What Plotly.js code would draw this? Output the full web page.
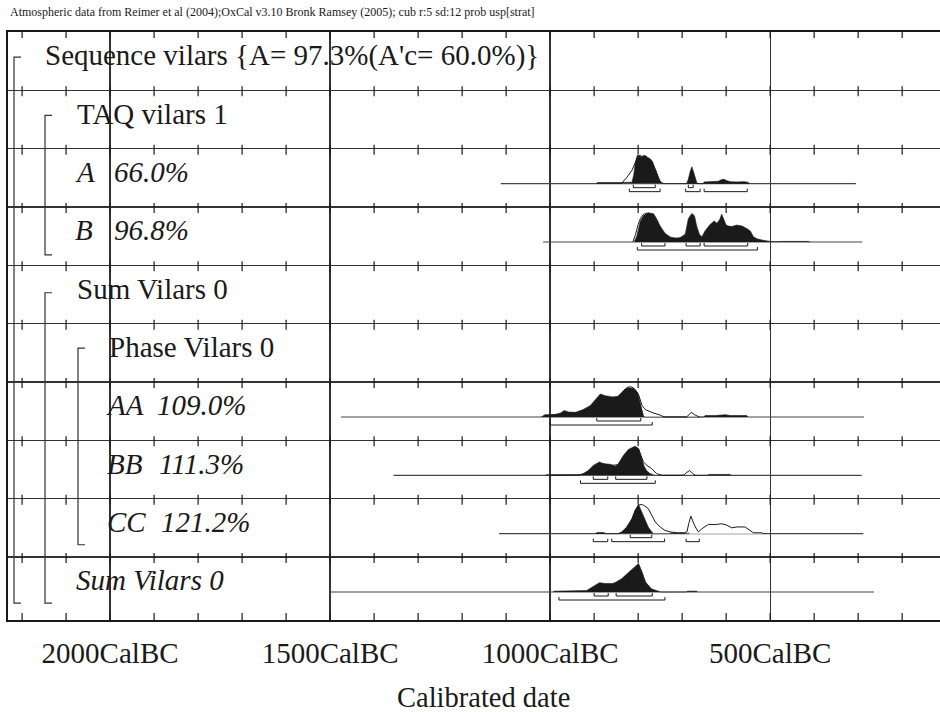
<!DOCTYPE html>
<html><head><meta charset="utf-8">
<script src="https://cdn.plot.ly/plotly-3.0.1.min.js"></script>
<style>html,body{margin:0;padding:0;background:#fff}#chart{width:940px;height:712px}</style>
</head><body><div id="chart"></div>
<script>
// ================= DATA (years cal BC, relative probability 0..1) =================
const headerText = "Atmospheric data from Reimer et al (2004);OxCal v3.10 Bronk Ramsey (2005); cub r:5 sd:12 prob usp[strat]";
const axisTitle = "Calibrated date";
const rowNames = ["Sequence vilars {A= 97.3%(A'c= 60.0%)}", "TAQ vilars 1", "A", "B", "Sum Vilars 0",
                  "Phase Vilars 0", "AA", "BB", "CC", "Sum Vilars 0"];
const rowAgreement = ["", "", "66.0%", "96.8%", "", "", "109.0%", "111.3%", "121.2%", ""];
const rowItalic = [false, false, true, true, false, false, true, true, true, true];
const majorTickBC = [2000, 1500, 1000, 500];
const majorTickText = ["2000CalBC", "1500CalBC", "1000CalBC", "500CalBC"];
const minorTickBC = [2200, 2100, 2000, 1900, 1800, 1700, 1600, 1500, 1400, 1300, 1200, 1100,
                     1000, 900, 800, 700, 600, 500, 400, 300, 200];

// --- A ---
const A_span = [1112, 305];
const A_postBC = [894, 893, 840, 830, 814, 810, 806, 802, 797, 792, 788, 783, 778, 772, 767, 762, 757, 752, 747, 742,
                  690, 686, 682, 678, 675, 671, 667, 664, 652, 650, 630, 618, 610, 605, 598, 590, 575, 560, 550, 548];
const A_postP  = [0, 0.04, 0.04, 0.04, 0.05, 0.3, 0.75, 0.97, 0.95, 0.92, 0.97, 0.96, 0.9, 0.85, 0.75, 0.55, 0.3, 0.12, 0.05, 0,
                  0, 0.15, 0.4, 0.58, 0.45, 0.2, 0.05, 0, 0, 0.06, 0.06, 0.08, 0.14, 0.15, 0.1, 0.07, 0.06, 0.07, 0.05, 0];
const A_priorBC = [838, 826, 814, 805, 800, 795, 790, 780, 770, 760, 750, 744];
const A_priorP  = [0, 0.21, 0.46, 0.75, 0.94, 0.98, 0.9, 0.85, 0.75, 0.45, 0.07, 0];
const A_r68 = [[811, 761], [686, 675]];
const A_r95 = [[820, 750], [692, 659], [650, 552]];

// --- B ---
const B_span = [1016, 291];
const B_postBC = [809, 803, 795, 788, 777, 765, 758, 750, 739, 727, 716, 705, 693, 686, 678, 672, 667, 661, 655, 648,
                  636, 627, 621, 615, 610, 606, 600, 595, 587, 576, 564, 553, 545, 538, 530, 519, 507, 500, 490, 473, 413, 410];
const B_postP  = [0, 0.2, 0.72, 0.9, 1.0, 0.97, 0.8, 0.55, 0.3, 0.17, 0.14, 0.15, 0.27, 0.8, 0.98, 0.9, 0.55, 0.27, 0.18, 0.38,
                  0.61, 0.72, 0.64, 0.76, 0.95, 0.78, 0.58, 0.55, 0.53, 0.58, 0.55, 0.46, 0.38, 0.18, 0.11, 0.07, 0.03, 0.02, 0.01, 0.02, 0.02, 0];
const B_priorBC = [812, 806, 800, 795, 789, 783, 777, 770];
const B_priorP  = [0, 0.25, 0.6, 0.8, 0.93, 0.98, 0.99, 0.92];
const B_r68 = [[792, 739], [691, 659], [650, 551]];
const B_r95 = [[802, 529]];

// --- AA ---
const AA_span = [1475, 287];
const AA_postBC = [1020, 1012, 990, 976, 968, 958, 942, 926, 909, 896, 886, 875, 858, 846, 837, 829, 821, 810, 801, 796, 792,
                   788, 785, 650, 648, 625, 602, 590, 553, 551];
const AA_postP  = [0, 0.08, 0.08, 0.14, 0.22, 0.17, 0.16, 0.25, 0.39, 0.6, 0.79, 0.73, 0.69, 0.71, 0.83, 0.97, 1.0, 0.98, 0.83, 0.5, 0.2,
                   0.05, 0, 0, 0.05, 0.05, 0.08, 0.05, 0.05, 0];
const AA_priorBC = [1010, 976, 950, 925, 909, 896, 886, 875, 858, 846, 837, 829, 823, 815, 807, 799, 791, 783, 766, 749, 741,
                    690, 686, 679, 672, 661];
const AA_priorP  = [0.05, 0.1, 0.12, 0.2, 0.35, 0.55, 0.7, 0.65, 0.62, 0.65, 0.78, 0.96, 1.03, 1.03, 0.95, 0.77, 0.39, 0.25, 0.14, 0.06, 0,
                    0, 0.05, 0.16, 0.08, 0];
const AA_r68 = [[894, 794]];
const AA_r95 = [[1000, 768]];

// --- BB ---
const BB_span = [1356, 292];
const BB_postBC = [1010, 1008, 935, 923, 913, 902, 888, 879, 864, 852, 845, 833, 822, 807, 799, 792, 786, 780, 773, 765, 760,
                   642, 640, 591, 589];
const BB_postP  = [0, 0.02, 0.02, 0.06, 0.17, 0.34, 0.46, 0.4, 0.38, 0.31, 0.4, 0.69, 0.89, 1.0, 0.92, 0.55, 0.3, 0.15, 0.06, 0.02, 0,
                   0, 0.03, 0.03, 0];
const BB_priorBC = [1000, 930, 913, 902, 888, 864, 845, 833, 822, 807, 799, 792, 788, 780, 769, 758, 746,
                    700, 695, 691, 683, 676, 670];
const BB_priorP  = [0, 0.01, 0.15, 0.3, 0.42, 0.34, 0.36, 0.65, 0.86, 0.97, 0.9, 0.62, 0.46, 0.34, 0.23, 0.06, 0,
                    0, 0.02, 0.08, 0.17, 0.06, 0];
const BB_r68 = [[902, 869], [851, 780]];
const BB_r95 = [[931, 761]];

// --- CC ---
const CC_span = [1116, 288];
const CC_postBC = [896, 894, 877, 875, 845, 837, 826, 814, 807, 799, 792, 784, 777, 769, 765, 728, 727, 693, 692, 688, 686, 684];
const CC_postP  = [0, 0.04, 0.04, 0, 0, 0.06, 0.23, 0.52, 0.8, 1.0, 0.75, 0.46, 0.23, 0.06, 0, 0, 0.02, 0.02, 0, 0, 0.03, 0];
const CC_priorBC = [845, 837, 826, 814, 807, 799, 793, 788, 777, 769, 761, 750, 739, 727, 712, 695, 689, 685, 680, 675, 670,
                    663, 655, 640, 625, 610, 598, 587, 576, 557, 545, 538, 519, 515];
const CC_priorP  = [0, 0.05, 0.2, 0.5, 0.78, 0.98, 1.0, 0.98, 0.86, 0.63, 0.4, 0.23, 0.11, 0.06, 0.03, 0.03, 0.06, 0.35, 0.6, 0.4, 0.23,
                    0.06, 0.17, 0.32, 0.31, 0.34, 0.29, 0.2, 0.23, 0.23, 0.11, 0.03, 0.03, 0];
const CC_r68 = [[818, 769]];
const CC_r95 = [[902, 869], [860, 740], [691, 661]];

// --- Sum Vilars 0 ---
const S_span = [1499, 264];
const S_postBC = [993, 991, 917, 900, 888, 875, 858, 850, 837, 825, 812, 799, 791, 783, 770, 753, 749, 690, 688, 667, 665];
const S_postP  = [0, 0.03, 0.05, 0.2, 0.32, 0.29, 0.29, 0.34, 0.46, 0.63, 0.8, 0.98, 0.69, 0.34, 0.11, 0.03, 0, 0, 0.03, 0.03, 0];
const S_r68 = [[900, 868], [850, 768]];
const S_r95 = [[980, 739]];

// ================= DRAWING =================
const ROWS_RANGE = 10.08;           // rows shown (last row slightly taller)
const PLOT_H = 588, PLOT_W = 932, ML = 8, MT = 32;
const PXU = PLOT_H / ROWS_RANGE;    // pixels per row unit
const px = n => n / PXU;
const xp = pix => (pix - ML) / PLOT_W;
const neg = bc => -bc;
const INK = '#1a1a1a';
const BASE_OFF = 0.6, HSCALE = 0.5;

const traces = [];

// tick marks along every row line
(function () {
  const xs = [], ys = [];
  const lines = [0, 1, 2, 3, 4, 5, 6, 7, 8, 9, ROWS_RANGE];
  lines.forEach(L => {
    let a, b;
    if (L === 0) { a = 0; b = px(6); }
    else if (L === ROWS_RANGE) { a = L - px(7); b = L; }
    else { a = L - px(4); b = L + px(6); }
    minorTickBC.forEach(t => { xs.push(neg(t), neg(t), null); ys.push(a, b, null); });
  });
  traces.push({x: xs, y: ys, mode: 'lines', line: {color: INK, width: 1.2}, hoverinfo: 'skip', showlegend: false});
})();

function polygon(bcArr, pArr, base) {
  const xs = [neg(bcArr[0])], ys = [base];
  bcArr.forEach((b, i) => { xs.push(neg(b)); ys.push(base - HSCALE * pArr[i]); });
  xs.push(neg(bcArr[bcArr.length - 1])); ys.push(base);
  return {xs, ys};
}

function addDist(row, span, postBC, postP, priorBC, priorP, r68, r95) {
  const base = row + BASE_OFF;
  traces.push({x: [neg(span[0]), neg(span[1])], y: [base, base], mode: 'lines',
               line: {color: '#444', width: 1.2}, hoverinfo: 'skip', showlegend: false});
  if (priorBC) {
    const p = polygon(priorBC, priorP, base);
    traces.push({x: p.xs, y: p.ys, mode: 'lines', fill: 'toself', fillcolor: '#ffffff',
                 line: {color: INK, width: 1}, hoverinfo: 'skip', showlegend: false});
  }
  const q = polygon(postBC, postP, base);
  traces.push({x: q.xs, y: q.ys, mode: 'lines', fill: 'toself', fillcolor: INK,
               line: {color: INK, width: 0.6}, hoverinfo: 'skip', showlegend: false});
  const xs = [], ys = [];
  const addRanges = (arr, off) => arr.forEach(r => {
    const y = base + px(off), yh = y - px(3);
    xs.push(neg(r[0]), neg(r[0]), neg(r[1]), neg(r[1]), null);
    ys.push(yh, y, y, yh, null);
  });
  addRanges(r68, 4); addRanges(r95, 8);
  traces.push({x: xs, y: ys, mode: 'lines', line: {color: INK, width: 1}, hoverinfo: 'skip', showlegend: false});
}

addDist(2, A_span, A_postBC, A_postP, A_priorBC, A_priorP, A_r68, A_r95);
addDist(3, B_span, B_postBC, B_postP, B_priorBC, B_priorP, B_r68, B_r95);
addDist(6, AA_span, AA_postBC, AA_postP, AA_priorBC, AA_priorP, AA_r68, AA_r95);
addDist(7, BB_span, BB_postBC, BB_postP, BB_priorBC, BB_priorP, BB_r68, BB_r95);
addDist(8, CC_span, CC_postBC, CC_postP, CC_priorBC, CC_priorP, CC_r68, CC_r95);
addDist(9, S_span, S_postBC, S_postP, null, null, S_r68, S_r95);

// labels
const FONT = 'Liberation Serif, Times New Roman, serif';
const FS = 29;
const labelX = [43, 75, 73, 73, 75, 107, 104, 105, 105, 74];
const agreeX = [0, 0, 112, 112, 0, 0, 155, 157, 159, 0];
const annotations = [];
rowNames.forEach((name, i) => {
  annotations.push({xref: 'paper', yref: 'y', x: xp(labelX[i]), y: i + 0.40, xanchor: 'left', yanchor: 'middle',
    showarrow: false, text: rowItalic[i] ? '<i>' + name + '</i>' : name,
    font: {family: FONT, size: FS, color: INK}});
  if (rowAgreement[i]) {
    annotations.push({xref: 'paper', yref: 'y', x: xp(agreeX[i]), y: i + 0.40, xanchor: 'left', yanchor: 'middle',
      showarrow: false, text: '<i>' + rowAgreement[i] + '</i>', font: {family: FONT, size: FS, color: INK}});
  }
});
annotations.push({xref: 'paper', yref: 'paper', x: 0, y: (MT + PLOT_H - 12) / PLOT_H, xanchor: 'left', yanchor: 'middle',
  showarrow: false, text: headerText, font: {family: FONT, size: 12, color: INK}});
annotations.push({xref: 'paper', yref: 'paper', x: xp(483), y: -(697 - MT - PLOT_H) / PLOT_H, xanchor: 'center', yanchor: 'middle',
  showarrow: false, text: axisTitle, font: {family: FONT, size: 28.5, color: INK}});

// brackets
function bracket(xpix, top, bot) {
  const x0 = xp(xpix), x1 = xp(xpix + 7);
  return {type: 'path', xref: 'paper', yref: 'y',
    path: `M${x1},${top} L${x0},${top} L${x0},${bot} L${x1},${bot}`, line: {color: '#333', width: 1.2}};
}
const shapes = [bracket(14, 0.43, 9.79), bracket(45, 1.43, 3.82), bracket(45, 4.47, 9.79), bracket(78, 5.42, 8.79)];

const layout = {
  width: 940, height: 712,
  margin: {l: ML, r: 0, t: MT, b: 712 - MT - PLOT_H},
  paper_bgcolor: '#ffffff', plot_bgcolor: '#ffffff', showlegend: false,
  xaxis: {range: [-2232, -114], tickvals: majorTickBC.map(neg), ticktext: majorTickText,
          showgrid: true, gridcolor: '#333', gridwidth: 1.3, zeroline: false,
          showline: true, mirror: true, linecolor: INK, linewidth: 2, ticks: '',
          ticklabelstandoff: 6, tickfont: {family: FONT, size: FS, color: INK}, fixedrange: true},
  yaxis: {range: [ROWS_RANGE, 0], tickvals: [1, 2, 3, 4, 5, 6, 7, 8, 9], showgrid: true, gridcolor: '#333', gridwidth: 1.3,
          zeroline: false, showline: true, mirror: false, linecolor: INK, linewidth: 2, showticklabels: false,
          ticks: '', fixedrange: true},
  annotations: annotations, shapes: shapes
};
Plotly.newPlot('chart', traces, layout, {displayModeBar: false, staticPlot: true});
</script></body></html>
